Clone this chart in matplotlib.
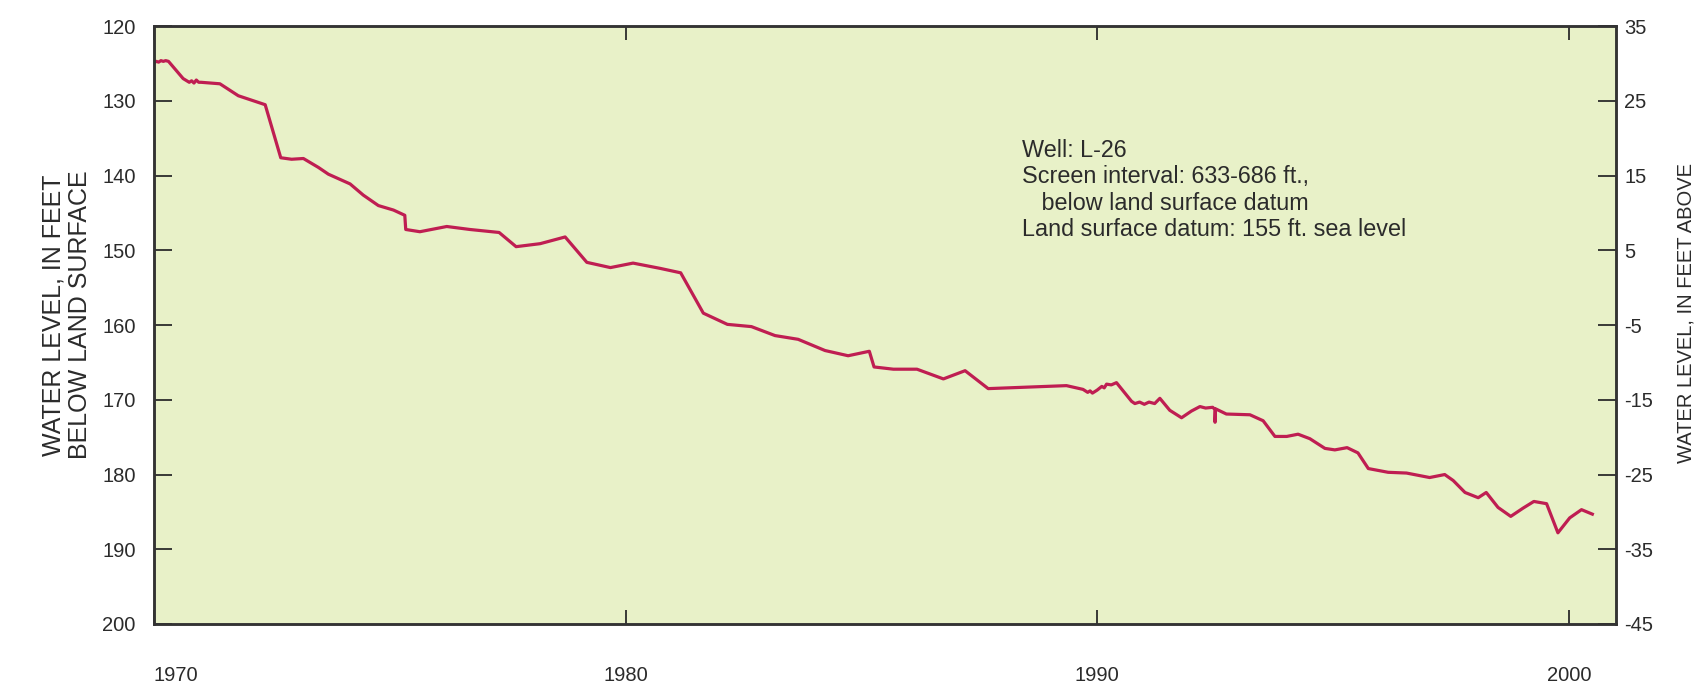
import numpy as np
import matplotlib
matplotlib.use("Agg")
import matplotlib.pyplot as plt

# water level record, well L-26 (feet below land surface)
years = [1970.0, 1970.05, 1970.1, 1970.15, 1970.2, 1970.25, 1970.31, 1970.62, 1970.75,
         1970.8, 1970.85, 1970.9, 1970.95, 1971.0, 1971.40, 1971.79, 1972.36, 1972.69,
         1972.92, 1973.17, 1973.49, 1973.70, 1974.16, 1974.44, 1974.76, 1975.08, 1975.32,
         1975.34, 1975.64, 1976.21, 1976.70, 1977.32, 1977.68, 1978.19, 1978.72, 1979.18,
         1979.68, 1980.16, 1980.73, 1981.17, 1981.65, 1982.16, 1982.67, 1983.17, 1983.66,
         1984.23, 1984.72, 1985.17, 1985.27, 1985.68, 1986.18, 1986.74, 1987.20, 1987.69,
         1989.35, 1989.70, 1989.8, 1989.85, 1989.9, 1990.0, 1990.1, 1990.15, 1990.2,
         1990.3, 1990.41, 1990.73, 1990.8, 1990.9, 1991.0, 1991.1, 1991.22, 1991.33,
         1991.54, 1991.79, 1992.0, 1992.18, 1992.3, 1992.45, 1992.5, 1992.5, 1992.51,
         1992.74, 1993.24, 1993.52, 1993.77, 1994.02, 1994.26, 1994.51, 1994.83, 1995.04,
         1995.30, 1995.53, 1995.75, 1996.17, 1996.56, 1997.05, 1997.37, 1997.55, 1997.80,
         1998.08, 1998.25, 1998.50, 1998.77, 1999.03, 1999.26, 1999.53, 1999.77, 2000.02,
         2000.27, 2000.50]
depth = [124.9, 124.7, 124.8, 124.6, 124.7, 124.6, 124.7, 127.0, 127.5,
         127.3, 127.6, 127.2, 127.5, 127.5, 127.7, 129.3, 130.5, 137.6,
         137.8, 137.7, 138.9, 139.8, 141.1, 142.6, 144.0, 144.6, 145.3,
         147.2, 147.5, 146.8, 147.2, 147.6, 149.5, 149.1, 148.2, 151.6,
         152.3, 151.7, 152.4, 153.0, 158.4, 159.9, 160.2, 161.4, 161.9,
         163.4, 164.1, 163.5, 165.6, 165.9, 165.9, 167.2, 166.1, 168.5,
         168.1, 168.6, 169.0, 168.8, 169.1, 168.7, 168.2, 168.4, 167.9,
         168.0, 167.7, 170.2, 170.5, 170.3, 170.6, 170.3, 170.5, 169.8,
         171.4, 172.4, 171.5, 170.9, 171.1, 171.0, 171.3, 173.0, 171.2,
         171.9, 172.0, 172.8, 174.9, 174.9, 174.6, 175.2, 176.5, 176.7,
         176.4, 177.1, 179.2, 179.7, 179.8, 180.4, 180.0, 180.8, 182.4,
         183.1, 182.4, 184.4, 185.6, 184.5, 183.6, 183.9, 187.8, 185.8,
         184.7, 185.3]

land_surface = 155
year_ticks = [1970, 1980, 1990, 2000]
left_ticks = list(range(120, 201, 10))
right_ticks = list(range(-45, 36, 10))

bg = "#e8f1c8"
line_color = "#bf1e52"
dark = "#2b2b2b"
font = ["Liberation Sans", "DejaVu Sans"]

fig = plt.figure(figsize=(17.06, 6.91), dpi=100)
ax = fig.add_axes([0.0902, 0.097, 0.857, 0.865])
ax.set_facecolor(bg)

ax.plot(years, depth, color=line_color, lw=2.3, solid_joinstyle="round")

ax.set_xlim(1970, 2001)
ax.set_ylim(200, 120)
ax.set_xticks(year_ticks)
ax.set_xticklabels([str(y) for y in year_ticks], fontsize=14.5, family=font, color=dark)
ax.get_xticklabels()[0].set_ha("left")
ax.set_yticks(left_ticks)
ax.set_yticklabels([str(v) for v in left_ticks], fontsize=14.5, family=font, color=dark)
ax.tick_params(axis="x", direction="in", top=True, length=10, width=1.3, pad=30, colors=dark)
ax.tick_params(axis="y", direction="in", length=13, width=1.3, pad=13, colors=dark)

for s in ax.spines.values():
    s.set_color("#333333")
    s.set_linewidth(1.8)

ax2 = ax.twinx()
ax2.set_ylim(land_surface - 200, land_surface - 120)
ax2.set_yticks(right_ticks)
ax2.set_yticklabels([str(v) for v in right_ticks], fontsize=14.5, family=font, color=dark)
ax2.tick_params(axis="y", direction="in", length=13, width=1.3, pad=6, colors=dark)
for s in ax2.spines.values():
    s.set_color("#333333")
    s.set_linewidth(1.8)

ax.text(0.5935, 0.812,
        "Well: L-26\nScreen interval: 633-686 ft.,\n   below land surface datum\n"
        "Land surface datum: 155 ft. sea level",
        transform=ax.transAxes, ha="left", va="top", fontsize=16.8,
        family=font, color=dark, linespacing=1.2)

fig.text(0.039, 0.544, "WATER LEVEL, IN FEET\nBELOW LAND SURFACE", rotation=90,
         ha="center", va="center", fontsize=18, family=font, color=dark,
         linespacing=1.15)
fig.text(0.988, 0.547, "WATER LEVEL, IN FEET ABOVE", rotation=90,
         ha="center", va="center", fontsize=14.5, family=font, color=dark)

fig.savefig("out.png", dpi=100)
